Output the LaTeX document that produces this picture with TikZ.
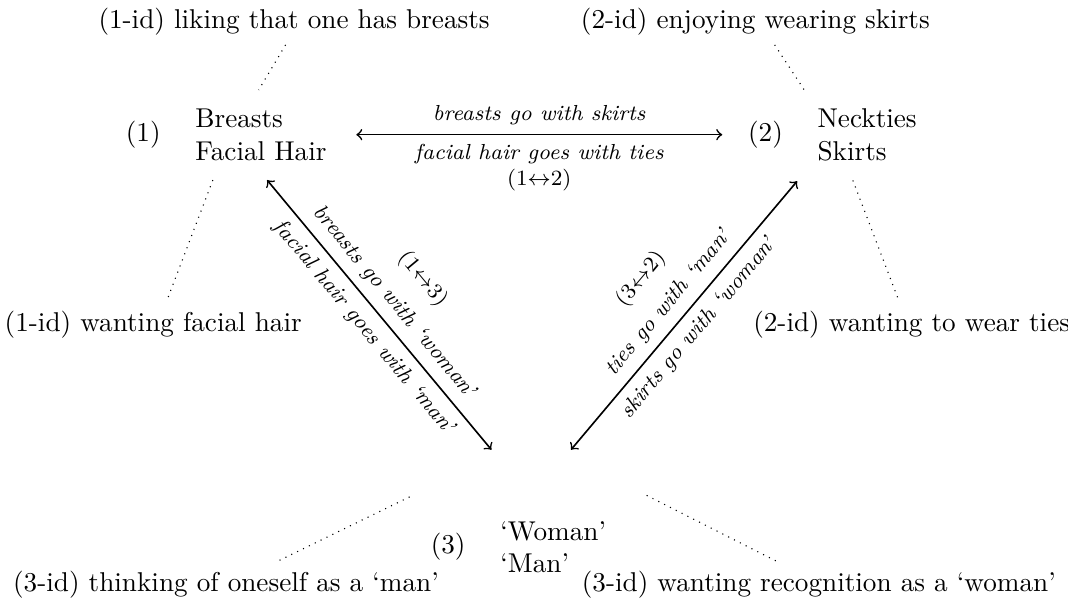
\documentclass[tikz,border=0pt]{standalone}
\usepackage{amsmath,amssymb}
\usepackage{xcolor}
\usepackage{tikz}
\usetikzlibrary{positioning}

\begin{document}
\begin{tikzpicture}[
  vert/.style={align=left,anchor=west},
  rel/.style={<->,semithick},
  idline/.style={dotted},
  lbl/.style={font=\footnotesize,sloped,align=center}
]
\useasboundingbox (0,0) rectangle (13.8,-7.78);
% the three clusters
\node[vert] (v1) at (2.40,-1.74) {Breasts\\Facial Hair};
\node[vert] (v2) at (10.44,-1.74) {Neckties\\Skirts};
\node[vert] (v3) at (6.34,-7.07) {`Woman'\\`Man'};
\node[left=0.2cm of v1] (n1) {(1)};
\node[left=0.2cm of v2] (n2) {(2)};
\node[left=0.2cm of v3] (n3) {(3)};
% identifications
\node (t1) at (3.80,-0.28) {(1-id) liking that one has breasts};
\node (t2) at (9.76,-0.28) {(2-id) enjoying wearing skirts};
\node (m1) at (1.98,-4.20) {(1-id) wanting facial hair};
\node (m2) at (11.78,-4.20) {(2-id) wanting to wear ties};
\node (b1) at (2.92,-7.56) {(3-id) thinking of oneself as a `man'};
\node (b2) at (10.58,-7.56) {(3-id) wanting recognition as a `woman'};
% associations
\draw[rel] ([xshift=0.26cm]v1.east) -- ([xshift=-0.21cm]n2.west)
  node[midway,above,lbl]{\textit{breasts go with skirts}}
  node[midway,below,lbl]{\textit{facial hair goes with ties}\\$(1{\leftrightarrow}2)$};
\draw[rel] ([shift={(0.08,-0.13)}]v1.south) -- ([shift={(0.01,0.80)}]v3.north west)
  node[midway,above,lbl]{$(1{\leftrightarrow}3)$\\[4pt]\textit{breasts go with `woman'}}
  node[midway,below,lbl]{\textit{facial hair goes with `man'}};
\draw[rel] ([shift={(0.23,0.80)}]v3.north) -- ([shift={(-0.14,-0.14)}]v2.south west)
  node[midway,above,lbl]{$(3{\leftrightarrow}2)$\\[4pt]\textit{ties go with `man'}}
  node[midway,below,lbl]{\textit{skirts go with `woman'}};
% dotted links to the id's
\draw[idline] ([xshift=-0.11cm]t1.south) -- ([shift={(-0.03,0.12)}]v1.north);
\draw[idline] ([xshift=0.25cm]t2.south) -- ([shift={(-0.05,0.12)}]v2.north west);
\draw[idline] ([shift={(0.35,-0.13)}]v1.south west) -- ([xshift=0.17cm]m1.north);
\draw[idline] ([shift={(0.58,-0.13)}]v2.south west) -- ([xshift=-0.16cm]m2.north);
\draw[idline] ([shift={(-0.15,0.35)}]n3.north west) -- ([xshift=0.65cm]b1.north);
\draw[idline] ([shift={(0.40,0.21)}]v3.north east) -- ([xshift=-0.53cm]b2.north);
\end{tikzpicture}
\end{document}
